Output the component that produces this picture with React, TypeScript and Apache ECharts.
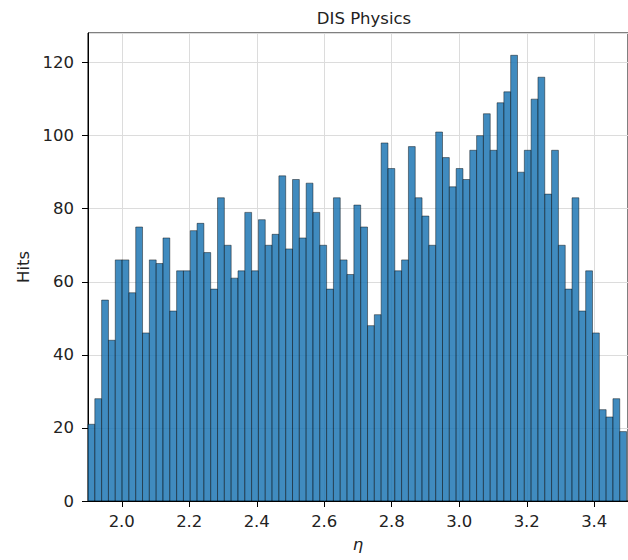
import React, { useEffect, useRef } from "react";
import * as echarts from "echarts";

const titleText = "DIS Physics";
const xName = "η";
const yName = "Hits";
const binStart = 1.9;
const binWidth = 0.0202;
const counts = [
  21, 28, 55, 44, 66, 66, 57, 75, 46, 66,
  65, 72, 52, 63, 63, 74, 76, 68, 58, 83,
  70, 61, 63, 79, 63, 77, 70, 73, 89, 69,
  88, 72, 87, 79, 70, 58, 83, 66, 62, 81,
  75, 48, 51, 98, 91, 63, 66, 97, 83, 78,
  70, 101, 94, 86, 91, 88, 96, 100, 106, 96,
  109, 112, 122, 90, 96, 110, 116, 84, 96, 70,
  58, 83, 52, 63, 46, 25, 23, 28, 19,
];
const xTicks = [2.0, 2.2, 2.4, 2.6, 2.8, 3.0, 3.2, 3.4];
const xMin = 1.9;
const xMax = 3.5;
const yMin = 0;
const yMax = 128.1;
const yInterval = 20;

const FONT = "DejaVu Sans";
const FS = 16.5;

export default function App() {
  const ref = useRef<HTMLDivElement>(null);
  useEffect(() => {
    if (!ref.current) return;
    const chart = echarts.init(ref.current, null, { renderer: "svg" });
    const data = counts.map((c, i) => [binStart + i * binWidth, binStart + (i + 1) * binWidth, c]);
    chart.setOption({
      animation: false,
      backgroundColor: "#ffffff",
      title: {
        text: titleText,
        left: 359,
        top: 5,
        textAlign: "center",
        textStyle: { fontFamily: FONT, fontSize: FS, fontWeight: "normal", color: "#222" },
      },
      grid: {
        left: 88,
        top: 33,
        bottom: 59,
        right: -4,
        show: true,
        borderColor: "#000",
        borderWidth: 1,
        backgroundColor: "transparent",
      },
      xAxis: {
        type: "value",
        min: xMin,
        max: xMax,
        name: xName,
        nameLocation: "middle",
        nameGap: 35,
        nameTextStyle: { fontFamily: FONT, fontSize: FS, fontStyle: "italic", color: "#222" },
        axisLine: { show: true, onZero: false, lineStyle: { color: "#000", width: 1 } },
        axisTick: { show: true, length: 6, lineStyle: { color: "#000" }, customValues: xTicks },
        axisLabel: {
          customValues: xTicks,
          margin: 12,
          fontFamily: FONT,
          fontSize: FS,
          color: "#222",
          formatter: (v: number) => v.toFixed(1),
        },
        splitLine: { show: true, lineStyle: { color: "#dcdcdc", width: 1 } },
      },
      yAxis: {
        type: "value",
        min: yMin,
        max: yMax,
        interval: yInterval,
        name: yName,
        nameLocation: "middle",
        nameGap: 56,
        nameTextStyle: { fontFamily: FONT, fontSize: FS, color: "#222" },
        axisLine: { show: true, lineStyle: { color: "#000", width: 1 } },
        axisTick: { show: true, length: 6, lineStyle: { color: "#000" } },
        axisLabel: { margin: 14, fontFamily: FONT, fontSize: FS, color: "#222", showMaxLabel: false },
        splitLine: { show: true, lineStyle: { color: "#dcdcdc", width: 1 } },
      },
      series: [
        {
          type: "custom",
          data,
          encode: { x: [0, 1], y: 2 },
          renderItem: (params: any, api: any) => {
            const p0 = api.coord([api.value(0), api.value(2)]);
            const p1 = api.coord([api.value(1), 0]);
            return {
              type: "rect",
              shape: { x: p0[0], y: p0[1], width: p1[0] - p0[0], height: p1[1] - p0[1] },
              style: { fill: "rgba(31,119,180,0.85)", stroke: "rgba(0,0,0,0.55)", lineWidth: 0.8 },
            };
          },
        },
      ],
    });
    return () => chart.dispose();
  }, []);
  return (
    <div
      ref={ref}
      style={{ position: "fixed", left: 0, top: 0, width: 628, height: 560 }}
    />
  );
}
